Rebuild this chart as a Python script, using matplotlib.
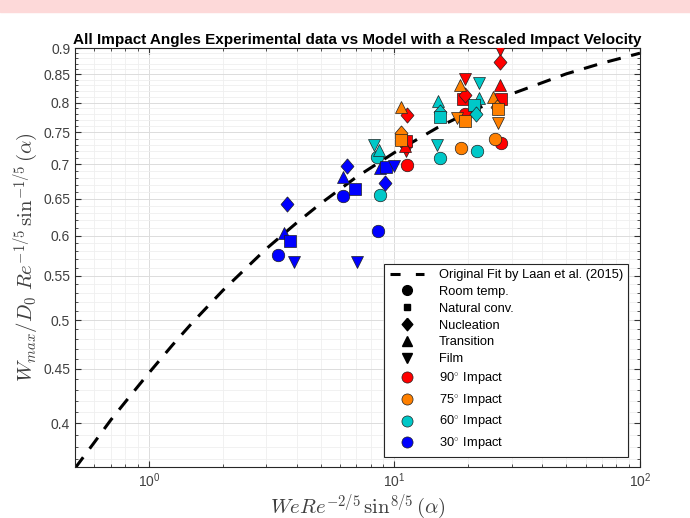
import numpy as np
import matplotlib
matplotlib.use('Agg')
import matplotlib.pyplot as plt
from matplotlib.lines import Line2D
from matplotlib.patches import Rectangle
from matplotlib.ticker import FixedLocator, MultipleLocator, NullFormatter

plt.rcParams['font.family'] = ['Liberation Sans', 'DejaVu Sans']
plt.rcParams['mathtext.fontset'] = 'cm'

# fit curve (Laan et al. 2015)
fit_x = [0.5, 0.6, 0.7, 0.85, 1, 1.25, 1.5, 2, 2.5, 3, 4, 5, 7, 10, 15, 20, 30, 50, 70, 100]
fit_y = [0.363, 0.384, 0.403, 0.426, 0.446, 0.474, 0.497, 0.533, 0.560, 0.583, 0.617,
         0.643, 0.681, 0.718, 0.758, 0.783, 0.815, 0.851, 0.871, 0.890]

# marker codes: o room temp, s natural conv, D nucleation, ^ transition, v film
x90 = [11.3, 11.3, 11.1, 11.1, 11.0, 19.4, 19.1, 19.4, 19.4, 26.8, 26.8, 27.0, 27.2, 27.2]
y90 = [0.778, 0.699, 0.720, 0.736, 0.729, 0.842, 0.806, 0.814, 0.781, 0.896, 0.874, 0.831, 0.806, 0.733]
m90 = ['D', 'o', 'v', 's', '^', 'v', 's', 'D', 'o', 'v', 'D', '^', 's', 'o']

x75 = [10.6, 10.6, 10.6, 18.0, 19.3, 18.5, 18.6, 25.3, 26.1, 26.5, 26.5, 25.7]
y75 = [0.792, 0.749, 0.737, 0.774, 0.768, 0.831, 0.725, 0.810, 0.792, 0.789, 0.766, 0.739]
m75 = ['^', 'D', 's', 'v', 's', '^', 'o', '^', 'D', 's', 'v', 'o']

x60 = [8.77, 8.50, 8.64, 8.24, 15.4, 14.9, 15.1, 15.4, 15.3, 21.7, 22.2, 22.2, 21.1, 21.5]
y60 = [0.655, 0.711, 0.722, 0.730, 0.709, 0.730, 0.802, 0.784, 0.775, 0.720, 0.835, 0.808, 0.796, 0.780]
m60 = ['o', 'o', '^', 'v', 'o', 'v', '^', 'D', 's', 'o', 'v', '^', 's', 'D']

x30 = [3.34, 3.55, 3.75, 3.64, 3.90, 6.19, 6.19, 6.88, 6.42, 7.01, 8.58, 8.77, 9.27, 9.93, 9.19]
y30 = [0.576, 0.603, 0.593, 0.643, 0.567, 0.654, 0.681, 0.663, 0.697, 0.567, 0.606, 0.695, 0.696, 0.698, 0.673]
m30 = ['o', '^', 's', 'D', 'v', 'o', '^', 's', 'D', 'v', 'o', '^', 's', 'v', 'D']

angle_labels = ['90$^{\\circ}$ Impact', '75$^{\\circ}$ Impact', '60$^{\\circ}$ Impact', '30$^{\\circ}$ Impact']
angle_colors = ['#ff0000', '#ff8000', '#00c8c8', '#0000ff']
regime_labels = ['Room temp.', 'Natural conv.', 'Nucleation', 'Transition', 'Film']
regime_markers = ['o', 's', 'D', '^', 'v']

diamond = [(0, 1), (0.85, 0), (0, -1), (-0.85, 0), (0, 1)]
msize = {'o': 9, 's': 8, 'D': 11, '^': 9, 'v': 9}

fig = plt.figure(figsize=(6.9, 5.18), dpi=100)
fig.patches.append(Rectangle((0, 1 - 12 / 518), 1, 12 / 518, transform=fig.transFigure,
                             color='#fdd9d9', zorder=0))
ax = fig.add_axes([0.1087, 0.0985, 0.8188, 0.8088])
ax.set_xscale('log')
ax.set_yscale('log')

ax.plot(fit_x, fit_y, color='k', lw=2.2, linestyle=(0, (4.5, 3.5)), zorder=2)

for xs, ys, ms, c in [(x90, y90, m90, angle_colors[0]), (x75, y75, m75, angle_colors[1]),
                      (x60, y60, m60, angle_colors[2]), (x30, y30, m30, angle_colors[3])]:
    for x, y, m in zip(xs, ys, ms):
        mk = diamond if m == 'D' else m
        ax.plot([x], [y], marker=mk, ms=msize[m], color=c, mec='#202020', mew=0.5,
                linestyle='none', zorder=3)

ax.set_xlim(0.5, 100)
ax.set_ylim(0.364, 0.9)
yt = [0.4, 0.45, 0.5, 0.55, 0.6, 0.65, 0.7, 0.75, 0.8, 0.85, 0.9]
ax.yaxis.set_major_locator(FixedLocator(yt))
ax.set_yticklabels(['%g' % v for v in yt])
ax.yaxis.set_minor_locator(MultipleLocator(0.01))
ax.yaxis.set_minor_formatter(NullFormatter())

ax.grid(True, which='major', color='#dcdcdc', lw=0.7)
ax.grid(True, which='minor', color='#efefef', lw=0.6)
ax.set_axisbelow(True)
ax.tick_params(which='both', direction='in', top=True, right=True, colors='#333333',
               labelcolor='#404040', labelsize=10)
ax.tick_params(which='major', length=4)
ax.tick_params(which='minor', length=2)
for s in ax.spines.values():
    s.set_color('#262626')
    s.set_linewidth(0.8)

ax.set_title('All Impact Angles Experimental data vs Model with a Rescaled Impact Velocity',
             fontsize=11, fontweight='bold', pad=3)
ax.set_ylabel(r'$W_{max}/D_0\ Re^{-1/5}\,\sin^{-1/5}(\alpha)$', fontsize=15, color='#404040',
              labelpad=2)
ax.set_xlabel(r'$WeRe^{-2/5}\,\sin^{8/5}(\alpha)$', fontsize=15, color='#404040', labelpad=1)

handles = [Line2D([], [], color='k', lw=2.2, linestyle=(0, (3.3, 5.0)))]
labels = ['Original Fit by Laan et al. (2015)']
for lab, m in zip(regime_labels, regime_markers):
    mk = diamond if m == 'D' else m
    handles.append(Line2D([], [], marker=mk, color='k', linestyle='none',
                          ms=msize[m] - 2 if m != 's' else 5))
    labels.append(lab)
for lab, c in zip(angle_labels, angle_colors):
    handles.append(Line2D([], [], marker='o', color=c, mec='#202020', mew=0.5,
                          linestyle='none', ms=8))
    labels.append(lab)

leg = ax.legend(handles, labels, loc='lower right', bbox_to_anchor=(0.979, 0.024),
                borderaxespad=0, fontsize=9.3, frameon=True, fancybox=False, framealpha=1,
                edgecolor='#262626', handlelength=2.7, handletextpad=1.1,
                labelspacing=0.37, borderpad=0.4)
leg.get_frame().set_linewidth(0.8)

fig.savefig('out.png', dpi=100)
